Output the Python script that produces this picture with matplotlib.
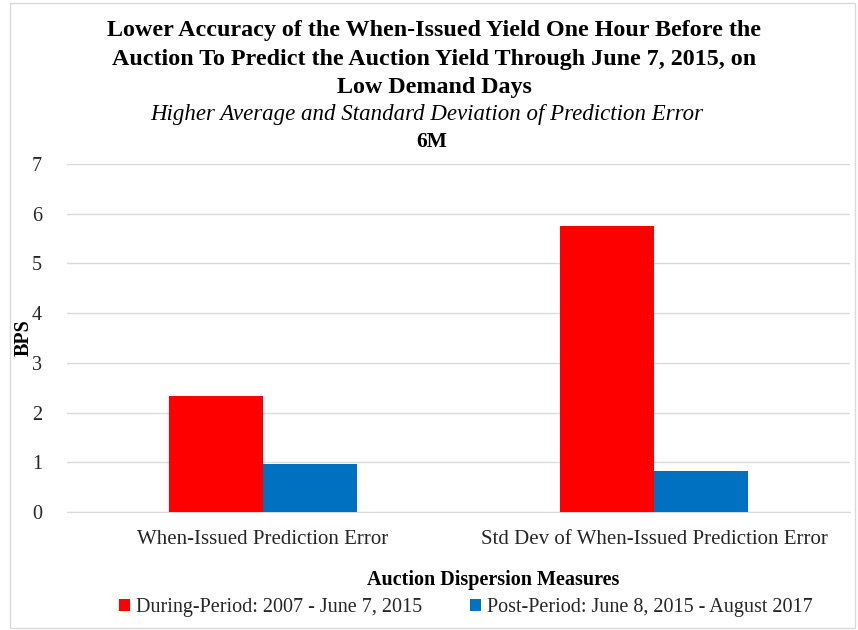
import numpy as np
import matplotlib.pyplot as plt
from matplotlib.patches import Rectangle

# Datos
categorias = ["When-Issued Prediction Error", "Std Dev of When-Issued Prediction Error"]
durante = [2.33, 5.75]
post = [0.97, 0.83]
serie_nombres = ["During-Period: 2007 - June 7, 2015", "Post-Period: June 8, 2015 - August 2017"]
colores = ["#FF0000", "#0070C0"]

plt.rcParams["font.family"] = ["Liberation Serif", "DejaVu Serif"]

fig = plt.figure(figsize=(8.58, 6.3), dpi=100)
ax = fig.add_axes([0.078, 0.187, 0.913, 0.553])

x = np.arange(len(categorias))
w = 0.24
b1 = ax.bar(x - w / 2, durante, width=w, color=colores[0], label=serie_nombres[0], zorder=3)
b2 = ax.bar(x + w / 2, post, width=w, color=colores[1], label=serie_nombres[1], zorder=3)

ax.set_ylim(0, 7)
ax.set_xlim(-0.5, 1.5)
ax.set_yticks(range(0, 8))
ax.set_xticks(x)
ax.set_xticklabels(categorias, fontsize=15, color="#262626")
ax.tick_params(axis="y", length=0, pad=18, labelsize=14.5, labelcolor="#262626")
ax.tick_params(axis="x", length=0, pad=13)
ax.grid(axis="y", color="#d9d9d9", linewidth=1, zorder=0)
for s in ["top", "right", "left"]:
    ax.spines[s].set_visible(False)
ax.spines["bottom"].set_color("#d9d9d9")

ax.set_ylabel("BPS", fontsize=14.5, fontweight="bold")
ax.yaxis.set_label_coords(-0.043, 0.5)

# Títulos
fig.text(0.506, 0.951, "Lower Accuracy of the When-Issued Yield One Hour Before the",
         ha="center", va="center", fontsize=17.3, fontweight="bold")
fig.text(0.506, 0.906, "Auction To Predict the Auction Yield Through June 7, 2015, on",
         ha="center", va="center", fontsize=17.3, fontweight="bold")
fig.text(0.506, 0.861, "Low Demand Days",
         ha="center", va="center", fontsize=17.3, fontweight="bold")
fig.text(0.497, 0.819, "Higher Average and Standard Deviation of Prediction Error",
         ha="center", va="center", fontsize=16.5, style="italic")
fig.text(0.503, 0.774, "6M", ha="center", va="center", fontsize=15.5, fontweight="bold")

fig.text(0.575, 0.080, "Auction Dispersion Measures", ha="center", va="center",
         fontsize=14.5, fontweight="bold")

fig.legend(handles=[b1, b2], loc="center", bbox_to_anchor=(0.543, 0.035), ncol=2,
           frameon=False, fontsize=14.5, handlelength=0.55, handleheight=0.55,
           handletextpad=0.3, columnspacing=2.4, labelcolor="#262626")

# Borde
fig.patches.append(Rectangle((0.012, 0.003), 0.985, 0.992, transform=fig.transFigure,
                             fill=False, edgecolor="#d9d9d9", linewidth=1))

fig.savefig("out.png", dpi=100)
